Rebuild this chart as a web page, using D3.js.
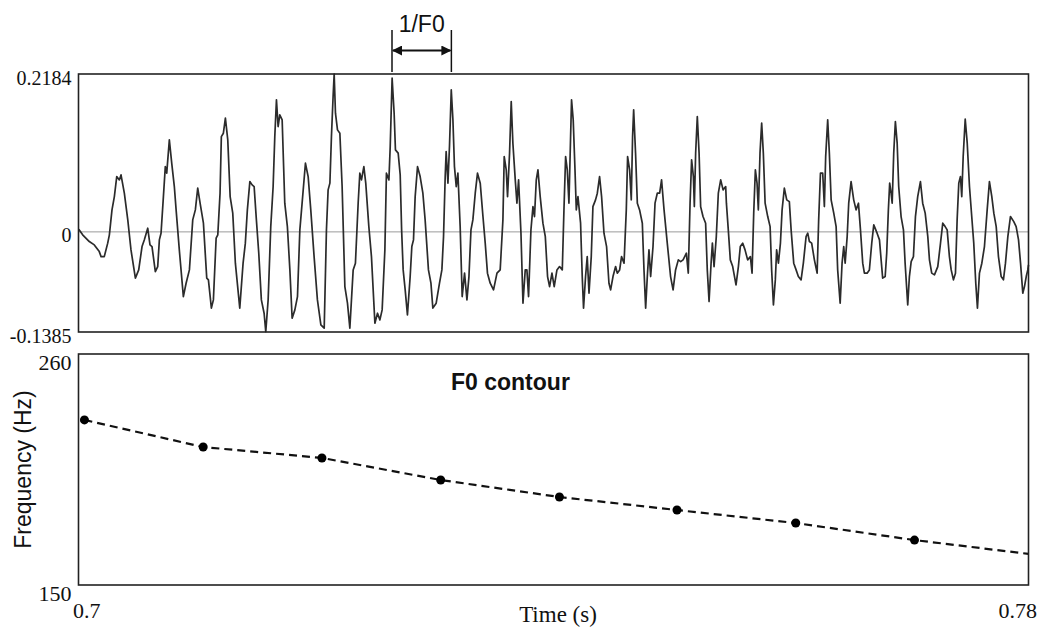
<!DOCTYPE html>
<html>
<head>
<meta charset="utf-8">
<script src="https://cdn.jsdelivr.net/npm/d3@7"></script>
<style>
  body { margin: 0; background: #fff; }
  .serif { font-family: "Liberation Serif", "Times New Roman", serif; }
  .sans { font-family: "Liberation Sans", Arial, sans-serif; }
</style>
</head>
<body>
<div id="chart"></div>
<script>
// ---- data ----
// time in ms, amplitude
var waveform = [
  [700.02,0.0037],[700.35,-0.0041],[700.91,-0.0134],[701.33,-0.0180],[701.75,-0.0273],[701.90,-0.0342],[702.17,-0.0342],
  [702.46,-0.0156],[702.60,-0.0041],[702.82,0.0304],[703.02,0.0488],[703.22,0.0765],[703.44,0.0719],[703.58,0.0788],
  [703.86,0.0535],[704.15,0.0166],[704.42,-0.0249],[704.79,-0.0640],[705.07,-0.0526],[705.35,-0.0203],[705.54,-0.0111],
  [705.83,0.0051],[706.02,-0.0180],[706.19,-0.0203],[706.47,-0.0549],[706.67,-0.0480],[706.81,-0.0111],[706.95,-0.0018],
  [707.15,0.0488],[707.31,0.0903],[707.43,0.0812],[707.65,0.1273],[707.85,0.0950],[708.07,0.0627],[708.22,0.0304],
  [708.49,-0.0249],[708.83,-0.0895],[709.06,-0.0710],[709.34,-0.0526],[709.62,0.0166],[709.84,0.0304],[710.04,0.0605],
  [710.24,0.0397],[710.52,0.0120],[710.80,-0.0640],[710.94,-0.0664],[711.19,-0.1055],[711.36,-0.0941],[711.59,-0.0087],
  [711.73,-0.0041],[711.92,0.0535],[712.03,0.1318],[712.20,0.1365],[712.37,0.1573],[712.57,0.1273],[712.77,0.0488],
  [712.99,0.0259],[713.21,-0.0433],[713.58,-0.1055],[713.86,-0.0433],[714.05,-0.0156],[714.22,0.0304],[714.43,0.0696],
  [714.62,0.0650],[714.79,0.0627],[714.98,0.0166],[715.18,-0.0295],[715.40,-0.0941],[715.63,-0.1125],[715.77,-0.1379],
  [715.97,-0.0941],[716.19,0.0073],[716.39,0.0627],[716.53,0.1318],[716.67,0.1826],[716.81,0.1457],[716.95,0.1618],
  [717.15,0.1549],[717.37,0.0397],[717.59,0.0073],[717.80,-0.0526],[717.99,-0.1194],[718.22,-0.1079],[718.44,-0.0895],
  [718.64,0.0028],[718.83,0.0397],[719.11,0.0950],[719.34,0.0765],[719.56,0.0304],[719.84,-0.0342],[720.12,-0.0941],
  [720.41,-0.1286],[720.69,-0.1332],[720.88,0.0028],[721.02,0.0581],[721.17,0.0674],[721.30,0.1318],[721.44,0.1872],
  [721.53,0.2184],[721.64,0.1642],[721.81,0.1411],[722.01,0.1365],[722.20,0.0627],[722.43,-0.0757],[722.65,-0.0986],
  [722.85,-0.1332],[723.13,-0.0526],[723.32,-0.0433],[723.55,0.0397],[723.69,0.0812],[723.83,0.0719],[724.03,0.0903],
  [724.19,0.0674],[724.45,0.0073],[724.67,-0.0342],[724.96,-0.1263],[725.18,-0.1125],[725.38,-0.1217],[725.57,-0.1079],
  [725.80,-0.0249],[725.93,0.0812],[726.14,0.0719],[726.25,0.1180],[726.41,0.2126],[726.58,0.1642],[726.69,0.1134],
  [726.92,0.1089],[727.09,0.0788],[727.21,0.0028],[727.34,-0.0526],[727.51,-0.0802],[727.70,-0.1148],[727.93,-0.0618],
  [728.07,-0.0203],[728.21,-0.0111],[728.35,0.0488],[728.55,0.0903],[728.77,0.0765],[729.00,0.0535],[729.19,0.0166],
  [729.47,-0.0526],[729.68,-0.0710],[729.84,-0.1055],[730.12,-0.0986],[730.40,-0.0710],[730.60,-0.0526],[730.74,-0.0065],
  [730.88,0.0765],[730.96,0.1111],[731.11,0.0674],[731.24,0.1180],[731.39,0.1964],[731.53,0.1549],[731.66,0.0903],
  [731.81,0.0627],[731.95,0.0812],[732.14,0.0073],[732.31,-0.0895],[732.51,-0.0571],[732.71,-0.0941],[732.88,-0.0618],
  [733.05,0.0028],[733.21,0.0166],[733.41,0.0535],[733.60,0.0812],[733.83,0.0674],[734.06,0.0212],[734.25,-0.0156],
  [734.44,-0.0571],[734.67,-0.0710],[734.95,-0.0802],[735.24,-0.0571],[735.51,-0.0526],[735.74,0.0166],[735.85,0.1042],
  [736.02,0.0858],[736.13,0.0488],[736.30,0.1089],[736.44,0.1802],[736.58,0.1227],[736.78,0.0719],[736.92,0.0397],
  [737.06,0.0719],[737.26,-0.0018],[737.43,-0.0986],[737.62,-0.0526],[737.76,-0.0526],[737.90,-0.0895],[738.10,0.0028],
  [738.27,0.0350],[738.40,0.0212],[738.55,0.0719],[738.69,0.0858],[738.88,0.0488],[739.11,0.0120],[739.31,-0.0065],
  [739.50,-0.0618],[739.67,-0.0757],[739.87,-0.0571],[740.06,-0.0757],[740.29,-0.0526],[740.51,-0.0480],[740.74,-0.0526],
  [740.88,0.0304],[741.02,0.1042],[741.16,0.0858],[741.30,0.0397],[741.44,0.1318],[741.52,0.1826],[741.66,0.1549],
  [741.81,0.0858],[741.92,0.0304],[742.06,0.0488],[742.28,0.0120],[742.42,-0.0618],[742.53,-0.1055],[742.70,-0.0618],
  [742.84,-0.0342],[742.99,-0.0848],[743.18,-0.0342],[743.32,0.0350],[743.54,0.0443],[743.69,0.0535],[743.88,0.0765],
  [744.05,0.0488],[744.25,-0.0018],[744.47,-0.0203],[744.67,-0.0710],[744.81,-0.0802],[745.01,-0.0618],[745.23,-0.0480],
  [745.37,-0.0571],[745.57,-0.0526],[745.73,-0.0342],[745.94,-0.0433],[746.13,0.0304],[746.24,0.1042],[746.41,0.0858],
  [746.55,0.0443],[746.66,0.1318],[746.75,0.1688],[746.91,0.1089],[747.06,0.0397],[747.25,0.0304],[747.48,0.0120],
  [747.62,-0.0526],[747.76,-0.1055],[747.90,-0.0618],[748.04,-0.0249],[748.18,-0.0618],[748.38,-0.0203],[748.55,0.0397],
  [748.74,0.0535],[748.94,0.0535],[749.10,0.0719],[749.31,0.0304],[749.58,-0.0156],[749.86,-0.0618],[750.07,-0.0802],
  [750.28,-0.0526],[750.51,-0.0387],[750.71,-0.0411],[750.91,-0.0387],[751.19,-0.0295],[751.35,-0.0571],[751.50,0.0397],
  [751.63,0.0996],[751.78,0.0765],[751.86,0.0350],[751.97,0.1089],[752.11,0.1595],[752.26,0.1089],[752.39,0.0350],
  [752.59,0.0212],[752.81,0.0120],[752.95,-0.0526],[753.10,-0.0964],[753.27,-0.0433],[753.38,-0.0156],[753.52,-0.0480],
  [753.71,-0.0065],[753.88,0.0535],[754.08,0.0719],[754.28,0.0581],[754.50,0.0627],[754.56,0.0397],[754.72,0.0028],
  [754.89,-0.0387],[755.09,-0.0480],[755.37,-0.0733],[755.57,-0.0480],[755.73,-0.0203],[755.93,-0.0156],[756.13,-0.0249],
  [756.35,-0.0387],[756.58,-0.0342],[756.72,-0.0571],[756.86,0.0259],[757.00,0.0858],[757.14,0.0674],[757.25,0.0304],
  [757.39,0.1089],[757.53,0.1504],[757.67,0.1089],[757.82,0.0397],[758.04,0.0212],[758.24,0.0073],[758.37,-0.0526],
  [758.52,-0.1010],[758.68,-0.0664],[758.79,-0.0249],[758.94,-0.0433],[759.11,-0.0156],[759.25,0.0304],[759.44,0.0605],
  [759.64,0.0443],[759.86,0.0419],[760.01,0.0028],[760.23,-0.0433],[760.43,-0.0526],[760.62,-0.0618],[760.85,-0.0664],
  [761.04,-0.0433],[761.27,-0.0065],[761.41,-0.0018],[761.55,-0.0134],[761.74,-0.0156],[761.97,-0.0387],[762.20,-0.0571],
  [762.33,0.0166],[762.48,0.0812],[762.67,0.0812],[762.81,0.0350],[762.92,0.1042],[763.09,0.1549],[763.23,0.1089],
  [763.38,0.0443],[763.60,0.0259],[763.80,0.0073],[763.93,-0.0526],[764.14,-0.0986],[764.30,-0.0433],[764.44,-0.0203],
  [764.56,-0.0433],[764.73,-0.0065],[764.86,0.0397],[765.06,0.0696],[765.28,0.0443],[765.48,0.0304],[765.68,0.0397],
  [765.85,0.0028],[766.04,-0.0433],[766.18,-0.0571],[766.41,-0.0571],[766.60,-0.0526],[766.80,-0.0156],[766.97,0.0097],
  [767.25,-0.0018],[767.45,-0.0111],[767.59,-0.0387],[767.72,-0.0640],[767.93,-0.0618],[768.06,-0.0295],[768.20,0.0304],
  [768.31,0.0674],[768.43,0.0535],[768.52,0.0397],[768.65,0.1089],[768.79,0.1526],[768.94,0.1227],[769.07,0.0627],
  [769.27,0.0212],[769.47,0.0028],[769.61,-0.0433],[769.83,-0.1010],[769.97,-0.0618],[770.12,-0.0411],[770.31,-0.0342],
  [770.48,0.0212],[770.67,0.0488],[770.90,0.0696],[771.09,0.0397],[771.30,0.0259],[771.52,-0.0065],[771.66,-0.0387],
  [771.85,-0.0571],[772.08,-0.0595],[772.36,-0.0480],[772.59,-0.0156],[772.78,0.0120],[772.98,0.0073],[773.15,0.0028],
  [773.34,-0.0342],[773.49,-0.0526],[773.68,-0.0664],[773.85,-0.0571],[773.99,0.0166],[774.13,0.0674],[774.27,0.0765],
  [774.38,0.0488],[774.50,0.1042],[774.67,0.1559],[774.84,0.1227],[775.03,0.0627],[775.22,0.0212],[775.39,-0.0156],
  [775.56,-0.0710],[775.70,-0.1055],[775.87,-0.0571],[776.07,-0.0433],[776.29,-0.0203],[776.52,0.0304],[776.71,0.0696],
  [776.91,0.0488],[777.08,0.0259],[777.28,0.0073],[777.47,-0.0342],[777.70,-0.0618],[777.89,-0.0664],[778.06,-0.0433],
  [778.26,-0.0065],[778.48,0.0212],[778.76,0.0142],[778.96,0.0073],[779.16,-0.0111],[779.33,-0.0433],[779.52,-0.0848],
  [779.66,-0.0757],[779.81,-0.0618],[779.94,-0.0526],[780.00,-0.0456]
];

// F0 estimates, one per analysis frame
var f0Time = [700.5, 710.5, 720.5, 730.5, 740.5, 750.4, 760.4, 770.4];
var f0Hz = [228.6, 215.7, 210.5, 200.0, 191.9, 185.7, 179.5, 171.4];
var contourEnd = [780, 164.8];

// one pitch period marked above the waveform (ms)
var periodMarks = [726.4, 731.4];

var waveTicks = [-0.1385, 0, 0.2184];
var waveTickLabels = ["-0.1385", "0", "0.2184"];
var f0Ticks = [150, 260];
var f0TickLabels = ["150", "260"];
var timeTicks = [700, 780];
var timeTickLabels = ["0.7", "0.78"];

// ---- layout ----
var width = 1039, height = 633;
var left = 78.5, right = 1028.5;
var wTop = 74, wBottom = 332;
var fTop = 354, fBottom = 585;

var svg = d3.select("#chart").append("svg")
    .attr("width", width)
    .attr("height", height)
    .style("background", "#fff");

var x = d3.scaleLinear().domain([700, 780]).range([left, right]);
var yWave = d3.scaleLinear().domain([-0.1385, 0.2184]).range([wBottom, wTop]);
var yF0 = d3.scaleLinear().domain([150, 260]).range([fBottom, fTop]);

////////////////////
// waveform panel //
////////////////////

svg.append("line")
    .attr("x1", left).attr("x2", right)
    .attr("y1", yWave(0)).attr("y2", yWave(0))
    .style("stroke", "#9a9a9a")
    .style("stroke-width", 1);

var waveLine = d3.line()
    .x(function(d) { return x(d[0]); })
    .y(function(d) { return yWave(d[1]); });

svg.append("path")
    .datum(waveform)
    .attr("d", waveLine)
    .style("fill", "none")
    .style("stroke", "#2b2b2b")
    .style("stroke-width", 1.7)
    .style("stroke-linejoin", "round");

svg.append("rect")
    .attr("x", left).attr("y", wTop)
    .attr("width", right - left).attr("height", wBottom - wTop)
    .style("fill", "none")
    .style("stroke", "#222")
    .style("stroke-width", 1.6);

var waveAxis = svg.append("g")
    .attr("transform", "translate(" + left + ",0)")
    .call(d3.axisLeft(yWave)
        .tickValues(waveTicks)
        .tickSize(0)
        .tickPadding(7)
        .tickFormat(function(d, i) { return waveTickLabels[i]; }));
waveAxis.select(".domain").remove();
waveAxis.selectAll("text")
    .attr("class", "serif")
    .attr("dy", "0.5em")
    .style("font-size", "20px")
    .style("fill", "#111");

// 1/F0 bracket
var markY = 50.5;
var defs = svg.append("defs");
defs.append("marker")
    .attr("id", "arrow")
    .attr("viewBox", "0 0 10 10")
    .attr("refX", 9).attr("refY", 5)
    .attr("markerWidth", 5).attr("markerHeight", 5)
    .attr("orient", "auto-start-reverse")
    .append("path")
    .attr("d", "M0,0L10,5L0,10Z")
    .style("fill", "#111");

svg.selectAll(".periodTick")
    .data(periodMarks)
    .enter()
    .append("line")
    .attr("class", "periodTick")
    .attr("x1", function(d) { return x(d); })
    .attr("x2", function(d) { return x(d); })
    .attr("y1", 30).attr("y2", wTop - 2)
    .style("stroke", "#111")
    .style("stroke-width", 1.5);

svg.append("line")
    .attr("x1", x(periodMarks[0]) + 1).attr("x2", x(periodMarks[1]) - 1)
    .attr("y1", markY).attr("y2", markY)
    .style("stroke", "#111")
    .style("stroke-width", 2)
    .attr("marker-start", "url(#arrow)")
    .attr("marker-end", "url(#arrow)");

svg.append("text")
    .attr("class", "sans")
    .attr("x", (x(periodMarks[0]) + x(periodMarks[1])) / 2)
    .attr("y", 31.5)
    .attr("text-anchor", "middle")
    .style("font-size", "23px")
    .style("fill", "#111")
    .text("1/F0");

////////////////
// F0 contour //
////////////////

var f0Points = f0Time.map(function(t, i) { return [t, f0Hz[i]]; });
var contourLine = d3.line()
    .x(function(d) { return x(d[0]); })
    .y(function(d) { return yF0(d[1]); });

svg.append("path")
    .datum(f0Points.concat([contourEnd]))
    .attr("d", contourLine)
    .style("fill", "none")
    .style("stroke", "#111")
    .style("stroke-width", 2.2)
    .style("stroke-dasharray", "8,5");

svg.selectAll(".f0dot")
    .data(f0Points)
    .enter()
    .append("circle")
    .attr("class", "f0dot")
    .attr("cx", function(d) { return x(d[0]); })
    .attr("cy", function(d) { return yF0(d[1]); })
    .attr("r", 4.5)
    .style("fill", "#000");

svg.append("rect")
    .attr("x", left).attr("y", fTop)
    .attr("width", right - left).attr("height", fBottom - fTop)
    .style("fill", "none")
    .style("stroke", "#222")
    .style("stroke-width", 1.6);

svg.append("text")
    .attr("class", "sans")
    .attr("x", 451)
    .attr("y", 390)
    .style("font-size", "23px")
    .style("font-weight", "bold")
    .style("fill", "#111")
    .text("F0 contour");

var f0Axis = svg.append("g")
    .attr("transform", "translate(" + left + ",0)")
    .call(d3.axisLeft(yF0)
        .tickValues(f0Ticks)
        .tickSize(0)
        .tickPadding(7)
        .tickFormat(function(d, i) { return f0TickLabels[i]; }));
f0Axis.select(".domain").remove();
f0Axis.selectAll("text")
    .attr("class", "serif")
    .attr("dy", "0.7em")
    .style("font-size", "22px")
    .style("fill", "#111");

var timeAxis = svg.append("g")
    .attr("transform", "translate(0," + fBottom + ")")
    .call(d3.axisBottom(x)
        .tickValues(timeTicks)
        .tickSize(0)
        .tickPadding(17)
        .tickFormat(function(d, i) { return timeTickLabels[i]; }));
timeAxis.select(".domain").remove();
timeAxis.selectAll("text")
    .attr("class", "serif")
    .attr("text-anchor", function(d, i) { return i == 0 ? "start" : "end"; })
    .attr("dx", function(d, i) { return i == 0 ? -6 : 8; })
    .style("font-size", "22px")
    .style("fill", "#111");

svg.append("text")
    .attr("class", "serif")
    .attr("x", 558)
    .attr("y", 622)
    .attr("text-anchor", "middle")
    .style("font-size", "23px")
    .style("fill", "#111")
    .text("Time (s)");

svg.append("text")
    .attr("class", "sans")
    .attr("transform", "translate(31," + ((fTop + fBottom) / 2) + ") rotate(-90)")
    .attr("text-anchor", "middle")
    .style("font-size", "23px")
    .style("fill", "#111")
    .text("Frequency (Hz)");
</script>
</body>
</html>
